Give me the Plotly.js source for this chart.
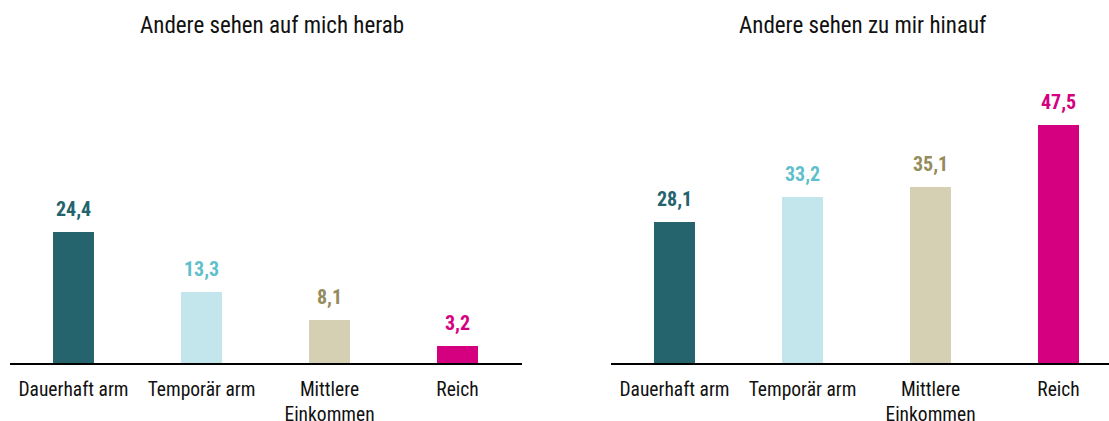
<!DOCTYPE html>
<html>
<head>
<meta charset="utf-8">
<script src="https://cdn.plot.ly/plotly-3.0.1.min.js"></script>
<style>html,body{margin:0;padding:0;background:#fff}</style>
</head>
<body>
<div id="chart" style="width:1109px;height:421px"></div>
<script>
const categories = ["Dauerhaft arm", "Temporär arm", "Mittlere<br>Einkommen", "Reich"];
const titleLeft = "Andere sehen auf mich herab";
const titleRight = "Andere sehen zu mir hinauf";
const valuesLeft = [24.4, 13.3, 8.1, 3.2];
const valuesRight = [28.1, 33.2, 35.1, 47.5];
const barColors = ["#25646d", "#c2e6eb", "#d5d0b3", "#d5007f"];
const labelColors = ["#24636b", "#5fbfcc", "#958c5b", "#d5007f"];

const FONT = "'Roboto Condensed', Roboto, sans-serif";
const W = 1109, H = 421;
const fmt = v => v.toFixed(1).replace('.', ',');

const traces = [
  {type: 'bar', x: categories, y: valuesLeft, xaxis: 'x', yaxis: 'y',
   marker: {color: barColors}, width: 0.32, hoverinfo: 'skip', showlegend: false},
  {type: 'bar', x: categories, y: valuesRight, xaxis: 'x2', yaxis: 'y2',
   marker: {color: barColors}, width: 0.32, hoverinfo: 'skip', showlegend: false}
];

const annotations = [];
valuesLeft.forEach((v, i) => annotations.push({
  xref: 'x', yref: 'y', x: categories[i], y: v, text: fmt(v), showarrow: false,
  yanchor: 'bottom', yshift: 9, font: {family: FONT, size: 20, color: labelColors[i], weight: 'bold'}
}));
valuesRight.forEach((v, i) => annotations.push({
  xref: 'x2', yref: 'y2', x: categories[i], y: v, text: fmt(v), showarrow: false,
  yanchor: 'bottom', yshift: 9, font: {family: FONT, size: 20, color: labelColors[i], weight: 'bold'}
}));
annotations.push({xref: 'paper', yref: 'paper', x: 272 / W, y: 1 - 26 / H, text: titleLeft,
  showarrow: false, xanchor: 'center', yanchor: 'middle', font: {family: FONT, size: 23, color: '#111'}});
annotations.push({xref: 'paper', yref: 'paper', x: 863 / W, y: 1 - 26 / H, text: titleRight,
  showarrow: false, xanchor: 'center', yanchor: 'middle', font: {family: FONT, size: 23, color: '#111'}});

const yBottom = 1 - 363.3 / H, yTop = 1 - 60 / H;
const plotH = 303.3;
const axX = {showgrid: false, zeroline: false, showline: true, linecolor: '#000', linewidth: 2,
  ticks: '', tickangle: 0, ticklabelstandoff: 7,
  tickfont: {family: FONT, size: 19.5, color: '#111'}, fixedrange: true, type: 'category'};
const axY = {visible: false, showgrid: false, zeroline: false, fixedrange: true};

const layout = {
  width: W, height: H,
  margin: {l: 0, r: 0, t: 0, b: 0},
  paper_bgcolor: '#fff', plot_bgcolor: '#fff',
  font: {family: FONT, color: '#111'},
  bargap: 0,
  xaxis: Object.assign({}, axX, {domain: [9.5 / W, 521.5 / W], range: [-0.5, 3.5], anchor: 'y'}),
  xaxis2: Object.assign({}, axX, {domain: [610.5 / W, 1], range: [-0.5, -0.5 + 498.5 / 128], anchor: 'y2'}),
  yaxis: Object.assign({}, axY, {domain: [yBottom, yTop], range: [0, plotH / 5.38], anchor: 'x'}),
  yaxis2: Object.assign({}, axY, {domain: [yBottom, yTop], range: [0, plotH / 5.02], anchor: 'x2'}),
  annotations: annotations
};

Plotly.newPlot('chart', traces, layout, {displayModeBar: false, staticPlot: true});
</script>
</body>
</html>
